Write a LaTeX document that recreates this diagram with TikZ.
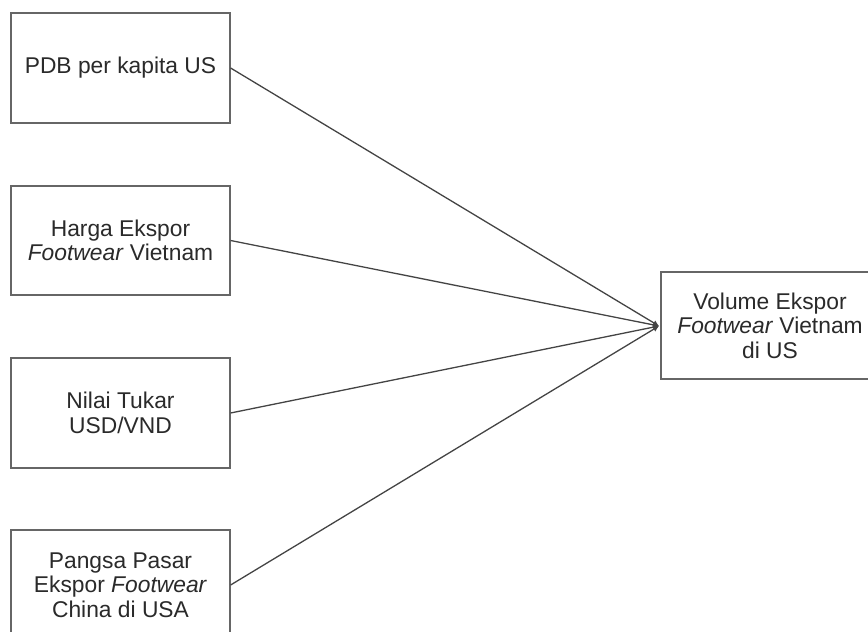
\documentclass[tikz,border=0pt]{standalone}
\usepackage{fontspec}
\setmainfont{Liberation Sans}
\usetikzlibrary{arrows.meta}
\definecolor{boxline}{HTML}{666666}
\definecolor{conn}{HTML}{444444}
\definecolor{txt}{HTML}{2A2A2A}
\begin{document}
\begin{tikzpicture}[x=1pt,y=-1pt,
  vbox/.style={draw=boxline, line width=1.2pt, fill=white, text=txt, align=center,
    minimum width=219pt, inner sep=0pt, font=\fontsize{22.8}{24.5}\selectfont},
  connector/.style={draw=conn, line width=1.3pt, -{Latex[length=6pt,width=6pt]}}]
\useasboundingbox (0,0) rectangle (868,632);
\clip (0,0) rectangle (868,632);
\node[vbox, minimum height=110pt] (pdb) at (120.5,68) {PDB per kapita US};
\node[vbox, minimum height=109pt] (harga) at (120.5,240.5) {Harga Ekspor\\\textit{Footwear} Vietnam};
\node[vbox, minimum height=110pt] (nilai) at (120.5,413) {Nilai Tukar\\USD/VND};
\node[vbox, minimum height=110pt] (pangsa) at (120.5,585) {Pangsa Pasar\\Ekspor \textit{Footwear}\\China di USA};
\node[vbox, minimum width=218pt, minimum height=107pt] (volume) at (770,325.5) {Volume Ekspor\\\textit{Footwear} Vietnam\\di US};
\coordinate (tip) at (659,326);
\draw[connector] (pdb.east) -- (tip);
\draw[connector] (harga.east) -- (tip);
\draw[connector] (nilai.east) -- (tip);
\draw[connector] (pangsa.east) -- (tip);
\end{tikzpicture}
\end{document}
